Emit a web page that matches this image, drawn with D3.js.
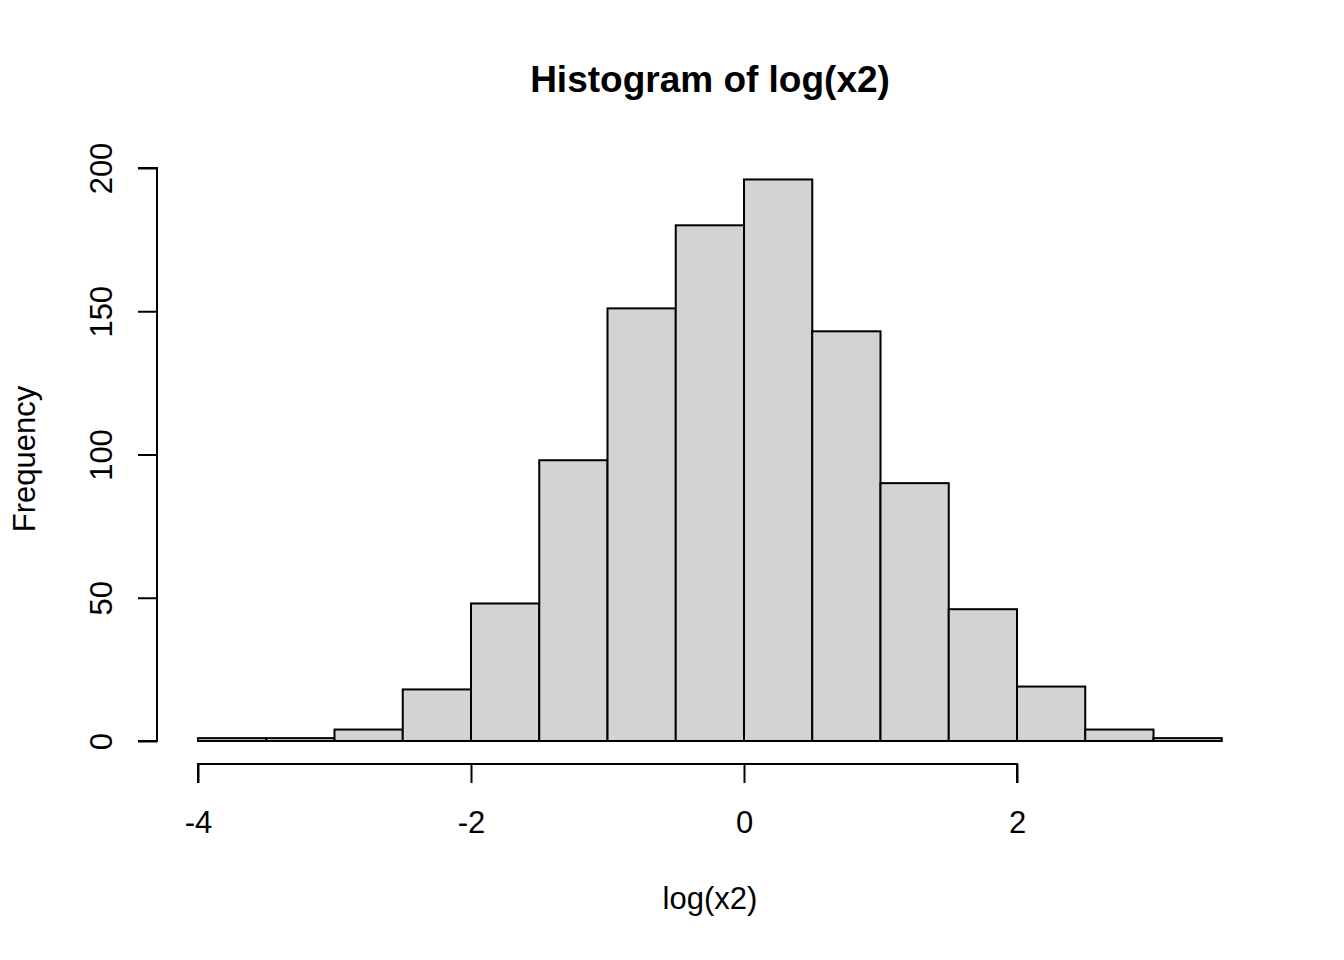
<!DOCTYPE html>
<html><head><meta charset="utf-8">
<script src="https://cdn.jsdelivr.net/npm/d3@7"></script>
<style>body{margin:0;background:#fff}svg{display:block}text{font-family:"Liberation Sans",Arial,sans-serif;fill:#000}</style>
</head><body><svg id="c" width="1344" height="960"></svg>
<script>
const binStarts = [-4,-3.5,-3,-2.5,-2,-1.5,-1,-0.5,0,0.5,1,1.5,2,2.5,3];
const binWidth = 0.5;
const counts = [1,1,4,18,48,98,151,180,196,143,90,46,19,4,1];
const xTicks = [-4,-2,0,2];
const yTicks = [0,50,100,150,200];
const titleText = "Histogram of log(x2)";
const xLabel = "log(x2)";
const yLabel = "Frequency";

const svg = d3.select("#c");
const x = d3.scaleLinear().domain([-4,0]).range([198,744]);
const y = d3.scaleLinear().domain([0,200]).range([741,168]);

svg.append("g").selectAll("rect").data(binStarts).join("rect")
  .attr("x", d=>x(d)).attr("width", d=>x(d+binWidth)-x(d))
  .attr("y", (d,i)=>y(counts[i])).attr("height",(d,i)=>y(0)-y(counts[i]))
  .attr("fill","#d3d3d3").attr("stroke","#000").attr("stroke-width",2);

const xAxis = svg.append("g").attr("transform","translate(0,764)")
  .call(d3.axisBottom(x).tickValues(xTicks).tickSize(19).tickFormat(d=>d<0?"-"+Math.abs(d):String(d)));
const yAxis = svg.append("g").attr("transform","translate(157,0)")
  .call(d3.axisLeft(y).tickValues(yTicks).tickSize(19));
[xAxis,yAxis].forEach(g=>{
  g.select(".domain").attr("stroke","#000").attr("stroke-width",2).attr("fill","none");
  g.selectAll(".tick line").attr("stroke","#000").attr("stroke-width",2);
  g.selectAll("text").style("font-size","31px").attr("font-family",null).attr("dy",null);
});
xAxis.select(".domain").attr("d",`M${x(-4)},19V0H${x(2)}V19`);
yAxis.select(".domain").attr("d",`M-19,${y(0)}H0V${y(200)}H-19`);
xAxis.selectAll(".tick text").attr("y",69).attr("text-anchor","middle");
yAxis.selectAll(".tick text").attr("x",0).attr("y",0)
  .attr("text-anchor","middle").attr("transform","translate(-45,0) rotate(-90)");

svg.append("text").attr("x",710).attr("y",92).attr("text-anchor","middle")
  .style("font-size","37px").style("font-weight","bold").text(titleText);
svg.append("text").attr("x",710).attr("y",909).attr("text-anchor","middle")
  .style("font-size","31px").text(xLabel);
svg.append("text").attr("transform","translate(35,459) rotate(-90)").attr("text-anchor","middle")
  .style("font-size","31px").text(yLabel);
</script></body></html>
